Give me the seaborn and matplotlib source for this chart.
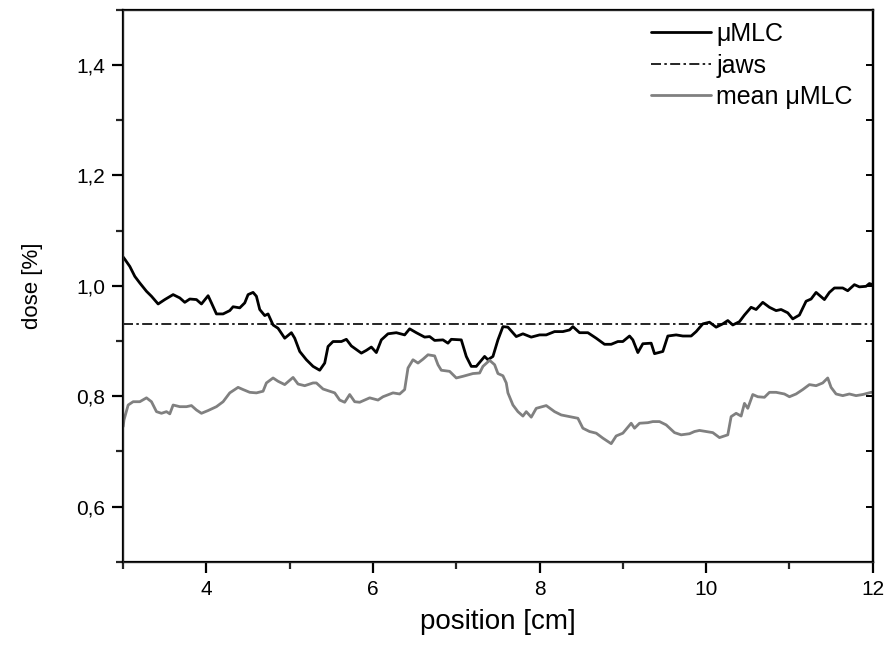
import numpy as np
import pandas as pd
import seaborn as sns
import matplotlib.pyplot as plt
from matplotlib.ticker import MultipleLocator, FuncFormatter

# μMLC profile (position [cm], dose)
mlc_x = [3.00, 3.02, 3.08, 3.14, 3.20, 3.28, 3.34, 3.42, 3.50, 3.60, 3.68, 3.74, 3.80, 3.88,
         3.94, 4.02, 4.06, 4.12, 4.20, 4.28, 4.32, 4.40, 4.46, 4.50, 4.56, 4.60, 4.64, 4.70,
         4.74, 4.80, 4.86, 4.94, 5.02, 5.06, 5.12, 5.20, 5.28, 5.36, 5.42, 5.46, 5.52, 5.62,
         5.68, 5.74, 5.86, 5.92, 5.98, 6.04, 6.10, 6.18, 6.28, 6.38, 6.44, 6.52, 6.62, 6.68,
         6.74, 6.84, 6.90, 6.94, 7.06, 7.12, 7.18, 7.24, 7.34, 7.38, 7.44, 7.50, 7.56, 7.62,
         7.72, 7.80, 7.90, 8.00, 8.08, 8.18, 8.28, 8.36, 8.40, 8.48, 8.58, 8.68, 8.78, 8.86,
         8.94, 9.00, 9.08, 9.12, 9.18, 9.24, 9.34, 9.38, 9.48, 9.54, 9.64, 9.72, 9.82, 9.88,
         9.96, 10.04, 10.12, 10.20, 10.26, 10.32, 10.40, 10.46, 10.54, 10.60, 10.68, 10.76,
         10.84, 10.90, 10.98, 11.04, 11.12, 11.20, 11.26, 11.32, 11.42, 11.48, 11.54, 11.64,
         11.70, 11.78, 11.84, 11.92, 11.96, 12.00]
mlc_y = [1.052, 1.048, 1.035, 1.017, 1.005, 0.990, 0.981, 0.967, 0.975, 0.984, 0.978, 0.970,
         0.976, 0.975, 0.967, 0.982, 0.969, 0.949, 0.949, 0.955, 0.962, 0.960, 0.969, 0.984,
         0.988, 0.981, 0.957, 0.946, 0.949, 0.929, 0.923, 0.905, 0.915, 0.905, 0.881, 0.866,
         0.854, 0.847, 0.860, 0.890, 0.899, 0.899, 0.903, 0.891, 0.878, 0.883, 0.889, 0.879,
         0.902, 0.913, 0.915, 0.911, 0.922, 0.915, 0.907, 0.908, 0.901, 0.902, 0.896, 0.903,
         0.902, 0.872, 0.854, 0.854, 0.872, 0.866, 0.872, 0.902, 0.926, 0.925, 0.908, 0.913,
         0.907, 0.911, 0.911, 0.917, 0.917, 0.920, 0.926, 0.915, 0.915, 0.905, 0.894, 0.894,
         0.899, 0.899, 0.909, 0.902, 0.879, 0.895, 0.896, 0.877, 0.881, 0.909, 0.911, 0.909,
         0.909, 0.917, 0.931, 0.934, 0.925, 0.931, 0.937, 0.929, 0.935, 0.947, 0.961, 0.957,
         0.970, 0.961, 0.955, 0.957, 0.951, 0.940, 0.947, 0.972, 0.976, 0.988, 0.975, 0.988,
         0.996, 0.996, 0.991, 1.002, 0.998, 0.999, 1.004, 1.002]

# jaws reference level
jaws_x = [3.0, 12.0]
jaws_y = [0.93, 0.93]

# mean μMLC profile
mean_x = [3.00, 3.01, 3.06, 3.12, 3.20, 3.28, 3.34, 3.40, 3.46, 3.52, 3.56, 3.60, 3.68, 3.76,
          3.82, 3.88, 3.94, 4.02, 4.12, 4.20, 4.28, 4.34, 4.38, 4.44, 4.52, 4.60, 4.68, 4.72,
          4.80, 4.86, 4.94, 5.04, 5.10, 5.18, 5.28, 5.32, 5.40, 5.48, 5.54, 5.60, 5.66, 5.72,
          5.78, 5.84, 5.96, 6.06, 6.12, 6.24, 6.32, 6.38, 6.42, 6.48, 6.54, 6.60, 6.66, 6.74,
          6.78, 6.82, 6.92, 7.00, 7.08, 7.20, 7.28, 7.32, 7.40, 7.46, 7.50, 7.56, 7.60, 7.62,
          7.68, 7.74, 7.80, 7.84, 7.90, 7.96, 8.08, 8.18, 8.26, 8.36, 8.46, 8.52, 8.60, 8.68,
          8.76, 8.86, 8.92, 9.00, 9.10, 9.14, 9.20, 9.30, 9.36, 9.44, 9.52, 9.62, 9.70, 9.80,
          9.86, 9.92, 10.00, 10.08, 10.16, 10.26, 10.30, 10.36, 10.42, 10.46, 10.50, 10.56,
          10.62, 10.70, 10.76, 10.84, 10.94, 11.00, 11.08, 11.16, 11.24, 11.32, 11.40, 11.46,
          11.50, 11.56, 11.64, 11.72, 11.80, 11.88, 11.98, 12.00]
mean_y = [0.745, 0.757, 0.784, 0.790, 0.790, 0.797, 0.790, 0.772, 0.769, 0.772, 0.768, 0.784,
          0.781, 0.781, 0.783, 0.775, 0.769, 0.774, 0.781, 0.790, 0.806, 0.812, 0.816, 0.812,
          0.807, 0.806, 0.809, 0.824, 0.833, 0.827, 0.821, 0.834, 0.822, 0.819, 0.824, 0.824,
          0.813, 0.809, 0.806, 0.793, 0.789, 0.803, 0.790, 0.789, 0.797, 0.793, 0.799, 0.806,
          0.804, 0.812, 0.851, 0.866, 0.860, 0.867, 0.875, 0.873, 0.857, 0.847, 0.845, 0.833,
          0.836, 0.841, 0.842, 0.854, 0.865, 0.857, 0.841, 0.837, 0.824, 0.806, 0.784, 0.772,
          0.764, 0.772, 0.762, 0.778, 0.783, 0.772, 0.766, 0.763, 0.760, 0.742, 0.736, 0.733,
          0.724, 0.714, 0.728, 0.733, 0.751, 0.742, 0.751, 0.752, 0.754, 0.754, 0.748, 0.734,
          0.730, 0.732, 0.736, 0.738, 0.736, 0.734, 0.725, 0.730, 0.763, 0.769, 0.764, 0.787,
          0.778, 0.803, 0.799, 0.798, 0.807, 0.807, 0.804, 0.799, 0.804, 0.812, 0.821, 0.819,
          0.824, 0.833, 0.816, 0.804, 0.801, 0.804, 0.801, 0.803, 0.807, 0.807]

sns.set_style("ticks")
plt.rcParams['font.family'] = ['Liberation Sans', 'DejaVu Sans']
plt.rcParams['text.color'] = 'black'
plt.rcParams['axes.labelcolor'] = 'black'

fig = plt.figure(figsize=(8.86, 6.48), dpi=100)
ax = fig.add_axes([0.139, 0.133, 0.846, 0.852])

sns.lineplot(x=mlc_x, y=mlc_y, ax=ax, color='black', linewidth=2.0, label='μMLC',
             sort=False, estimator=None)
sns.lineplot(x=jaws_x, y=jaws_y, ax=ax, color='black', linewidth=1.2, label='jaws',
             sort=False, estimator=None)
ax.lines[-1].set_dashes((6, 2, 1.5, 2))
sns.lineplot(x=mean_x, y=mean_y, ax=ax, color='#808080', linewidth=2.0, label='mean μMLC',
             sort=False, estimator=None)

ax.set_xlim(3, 12)
ax.set_ylim(0.5, 1.5)
ax.xaxis.set_minor_locator(MultipleLocator(1))
ax.yaxis.set_minor_locator(MultipleLocator(0.1))
ax.set_yticks([0.6, 0.8, 1.0, 1.2, 1.4])
ax.set_xticks([4, 6, 8, 10, 12])
ax.yaxis.set_major_formatter(FuncFormatter(lambda v, p: f"{v:.1f}".replace('.', ',')))

for s in ax.spines.values():
    s.set_linewidth(1.6)
    s.set_color('black')
ax.tick_params(which='major', direction='out', length=8, width=1.6, labelsize=15, pad=5,
               colors='black', labelcolor='black')
ax.tick_params(which='minor', direction='out', length=5, width=1.6)
ax.tick_params(which='both', right=False, top=False)

# right side ticks point inward
ax_r = ax.twinx()
ax_r.set_ylim(ax.get_ylim())
ax_r.set_yticks([0.6, 0.8, 1.0, 1.2, 1.4])
ax_r.yaxis.set_minor_locator(MultipleLocator(0.1))
ax_r.tick_params(which='both', direction='in', length=5, width=1.4, labelright=False,
                 colors='black')
ax_r.spines['right'].set_linewidth(1.6)
ax_r.spines['right'].set_color('black')

ax.set_xlabel('position [cm]', fontsize=20, labelpad=7)
ax.set_ylabel('dose [%]', fontsize=16, labelpad=24)

ax.legend(loc='upper right', frameon=False, fontsize=18, handlelength=2.4,
          labelspacing=0.3, handletextpad=0.2, borderaxespad=0.1,
          bbox_to_anchor=(0.99, 1.0))

fig.savefig('out.png', dpi=100)
